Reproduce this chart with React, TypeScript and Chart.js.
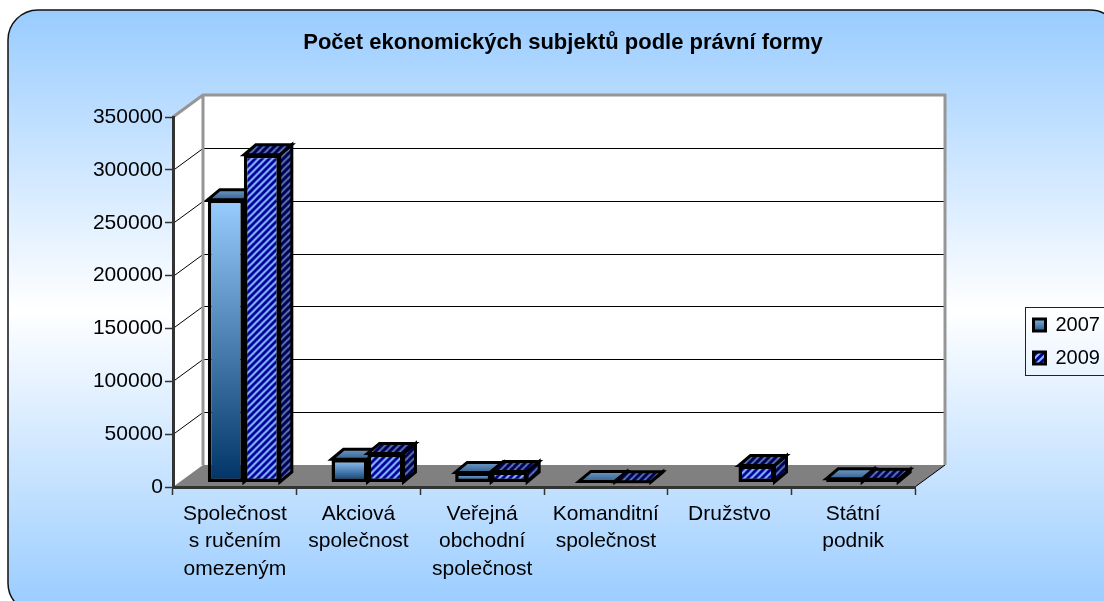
import React, { useEffect, useRef } from "react";
import { Chart, registerables } from "chart.js";

Chart.register(...registerables);

const TITLE = "Počet ekonomických subjektů podle právní formy";
const CATEGORIES = [
  ["Společnost", "s ručením", "omezeným"],
  ["Akciová", "společnost"],
  ["Veřejná", "obchodní", "společnost"],
  ["Komanditní", "společnost"],
  ["Družstvo"],
  ["Státní", "podnik"],
];
const VALUES_2007 = [267500, 22000, 9500, 1000, null, 3500];
const VALUES_2009 = [310000, 27500, 10500, 800, 16000, 3000];
const SERIES_NAMES = ["2007", "2009"];

const FONT = "'Liberation Sans', Arial, sans-serif";
const DEPTH_X = 30;
const DEPTH_Y = 22;
const SHIFT_X = 9;
const SHIFT_Y = -4.5;
const BAR_DX = 12;
const BAR_DY = -10;

function stripes(bg: string, fg: string, width: number, ctx: CanvasRenderingContext2D) {
  const c = document.createElement("canvas");
  c.width = 7;
  c.height = 7;
  const t = c.getContext("2d")!;
  t.fillStyle = bg;
  t.fillRect(0, 0, 7, 7);
  t.strokeStyle = fg;
  t.lineWidth = width;
  for (const o of [-7, 0, 7]) {
    t.beginPath();
    t.moveTo(o - 1, 8);
    t.lineTo(o + 8, -1);
    t.stroke();
  }
  return ctx.createPattern(c, "repeat")!;
}

export default function App() {
  const ref = useRef<HTMLCanvasElement>(null);
  useEffect(() => {
    const canvas = ref.current!;
    const ctx = canvas.getContext("2d")!;
    const front2009 = stripes("#000099", "#88BBFF", 2, ctx);
    const dark2009 = stripes("#00005a", "#5f7fac", 1.8, ctx);

    const legendGrad = ctx.createLinearGradient(0, 317, 0, 333);
    legendGrad.addColorStop(0, "#8fc0f0");
    legendGrad.addColorStop(1, "#1a4a7c");

    const scene = {
      id: "scene",
      afterLayout(chart: any) {
        const t = chart.titleBlock;
        t.left = 22;
        t.right = 1104;
        const l = chart.legend;
        l.left = 1020.5;
        l.right = 1104;
        l.width = 83.5;
        l.top = 302;
        l.bottom = 420;
        l.height = 118;
      },
      beforeDraw(chart: any) {
        const c = chart.ctx;
        const { left, right, top, bottom } = chart.chartArea;
        const y = chart.scales.y;
        c.save();
        c.fillStyle = "#ffffff";
        c.fillRect(0, 0, chart.width, chart.height);
        const g = c.createLinearGradient(0, 10, 0, 610);
        g.addColorStop(0, "#99CCFF");
        g.addColorStop(0.5, "#ffffff");
        g.addColorStop(1, "#99CCFF");
        c.fillStyle = g;
        c.strokeStyle = "#111111";
        c.lineWidth = 1.5;
        c.beginPath();
        c.roundRect(8, 10, 1112, 603, 30);
        c.fill();
        c.stroke();

        // walls
        c.fillStyle = "#ffffff";
        c.fillRect(left + DEPTH_X, top - DEPTH_Y, right - left, bottom - top);
        c.beginPath();
        c.moveTo(left, top);
        c.lineTo(left + DEPTH_X, top - DEPTH_Y);
        c.lineTo(left + DEPTH_X, bottom - DEPTH_Y);
        c.lineTo(left, bottom);
        c.closePath();
        c.fill();

        // grid
        c.strokeStyle = "#000000";
        c.lineWidth = 1;
        for (const tick of y.ticks) {
          if (tick.value === 0) continue;
          const py = Math.round(y.getPixelForValue(tick.value)) + 0.5;
          c.beginPath();
          c.moveTo(left, py);
          c.lineTo(left + DEPTH_X, py - DEPTH_Y);
          c.lineTo(right + DEPTH_X, py - DEPTH_Y);
          c.stroke();
        }

        // floor
        c.fillStyle = "#808080";
        c.beginPath();
        c.moveTo(left, bottom);
        c.lineTo(right, bottom);
        c.lineTo(right + DEPTH_X, bottom - DEPTH_Y);
        c.lineTo(left + DEPTH_X, bottom - DEPTH_Y);
        c.closePath();
        c.fill();
        c.strokeStyle = "#000000";
        c.lineWidth = 1;
        c.beginPath();
        c.moveTo(right, bottom);
        c.lineTo(right + DEPTH_X, bottom - DEPTH_Y);
        c.stroke();

        // wall frame
        c.strokeStyle = "#969696";
        c.lineWidth = 3;
        c.lineJoin = "miter";
        c.beginPath();
        c.moveTo(left, top);
        c.lineTo(left + DEPTH_X, top - DEPTH_Y);
        c.lineTo(right + DEPTH_X, top - DEPTH_Y);
        c.lineTo(right + DEPTH_X, bottom - DEPTH_Y);
        c.moveTo(left + DEPTH_X, top - DEPTH_Y);
        c.lineTo(left + DEPTH_X, bottom - DEPTH_Y);
        c.stroke();

        // legend frame
        c.strokeStyle = "#222222";
        c.lineWidth = 1;
        c.strokeRect(1025.5, 307.5, 90, 68);
        c.restore();
      },
      beforeDatasetsDraw(chart: any) {
        const c = chart.ctx;
        c.save();
        c.translate(SHIFT_X, SHIFT_Y);
        c.lineWidth = 3;
        c.strokeStyle = "#000000";
        c.lineJoin = "miter";
        chart.data.datasets.forEach((ds: any, i: number) => {
          chart.getDatasetMeta(i).data.forEach((bar: any, j: number) => {
            if (ds.data[j] == null) return;
            const l = bar.x - bar.width / 2;
            const r = bar.x + bar.width / 2;
            const t = bar.y;
            const b = bar.base;
            c.fillStyle = i === 0 ? "#2c5a8c" : dark2009;
            c.beginPath();
            c.moveTo(r, t);
            c.lineTo(r + BAR_DX, t + BAR_DY);
            c.lineTo(r + BAR_DX, b + BAR_DY);
            c.lineTo(r, b);
            c.closePath();
            c.fill();
            c.stroke();
            if (i === 0) {
              const g = c.createLinearGradient(0, t + BAR_DY, 0, t);
              g.addColorStop(0, "#7099c4");
              g.addColorStop(1, "#34618f");
              c.fillStyle = g;
            } else {
              c.fillStyle = dark2009;
            }
            c.beginPath();
            c.moveTo(l, t);
            c.lineTo(l + BAR_DX, t + BAR_DY);
            c.lineTo(r + BAR_DX, t + BAR_DY);
            c.lineTo(r, t);
            c.closePath();
            c.fill();
            c.stroke();
          });
        });
      },
      afterDatasetsDraw(chart: any) {
        chart.ctx.restore();
      },
    };

    const frontGradient = (context: any) => {
      const value = context.parsed?.y;
      if (value == null) return "#99CCFF";
      const s = context.chart.scales.y;
      const g = ctx.createLinearGradient(0, s.getPixelForValue(value), 0, s.getPixelForValue(0));
      g.addColorStop(0, "#99CCFF");
      g.addColorStop(1, "#003366");
      return g;
    };

    const chart = new Chart(canvas, {
      type: "bar",
      data: {
        labels: CATEGORIES,
        datasets: [
          { label: SERIES_NAMES[0], data: VALUES_2007, backgroundColor: frontGradient },
          { label: SERIES_NAMES[1], data: VALUES_2009, backgroundColor: front2009 },
        ],
      } as any,
      plugins: [scene],
      options: {
        responsive: false,
        animation: false,
        events: [],
        layout: { padding: { left: 0, right: 189, top: 0, bottom: 0 } },
        datasets: {
          bar: {
            barPercentage: 1,
            categoryPercentage: 0.582,
            borderColor: "#000000",
            borderWidth: 3.5,
            borderSkipped: false,
            clip: false,
          },
        },
        plugins: {
          title: {
            display: true,
            text: TITLE,
            color: "#000000",
            font: { family: FONT, size: 22, weight: "bold", lineHeight: 1.2 },
            padding: { top: 30, bottom: 60.6 },
          },
          legend: {
            position: "chartArea",
            align: "start",
            labels: {
              color: "#000000",
              font: { family: FONT, size: 20, lineHeight: 1.2 },
              boxWidth: 12,
              boxHeight: 12,
              padding: 13,
              generateLabels: () =>
                SERIES_NAMES.map((text, i) => ({
                  text,
                  fillStyle: i === 0 ? legendGrad : front2009,
                  strokeStyle: "#000000",
                  lineWidth: 3,
                  datasetIndex: i,
                  hidden: false,
                })),
            },
          },
          tooltip: { enabled: false },
        },
        scales: {
          x: {
            afterFit: (a: any) => {
              a.height = 114;
            },
            border: { color: "#333333", width: 3 },
            grid: { drawOnChartArea: false, tickLength: 8, color: "#333333", tickWidth: 1.5 },
            ticks: {
              color: "#000000",
              autoSkip: false,
              maxRotation: 0,
              minRotation: 0,
              padding: 5,
              font: { family: FONT, size: 21, lineHeight: 1.31 },
            },
          },
          y: {
            min: 0,
            max: 350000,
            afterFit: (a: any) => {
              a.width = 173;
            },
            border: { color: "#333333", width: 3 },
            grid: { drawOnChartArea: false, tickLength: 8, color: "#333333", tickWidth: 1.5 },
            ticks: {
              color: "#000000",
              stepSize: 50000,
              padding: 2,
              font: { family: FONT, size: 21 },
              callback: (v: any) => String(v),
            },
          },
        },
      } as any,
    });
    return () => chart.destroy();
  }, []);
  return (
    <div style={{ position: "fixed", left: 0, top: 0, width: 1104, height: 601, overflow: "hidden" }}>
      <canvas ref={ref} width={1104} height={601} style={{ display: "block" }} />
    </div>
  );
}
